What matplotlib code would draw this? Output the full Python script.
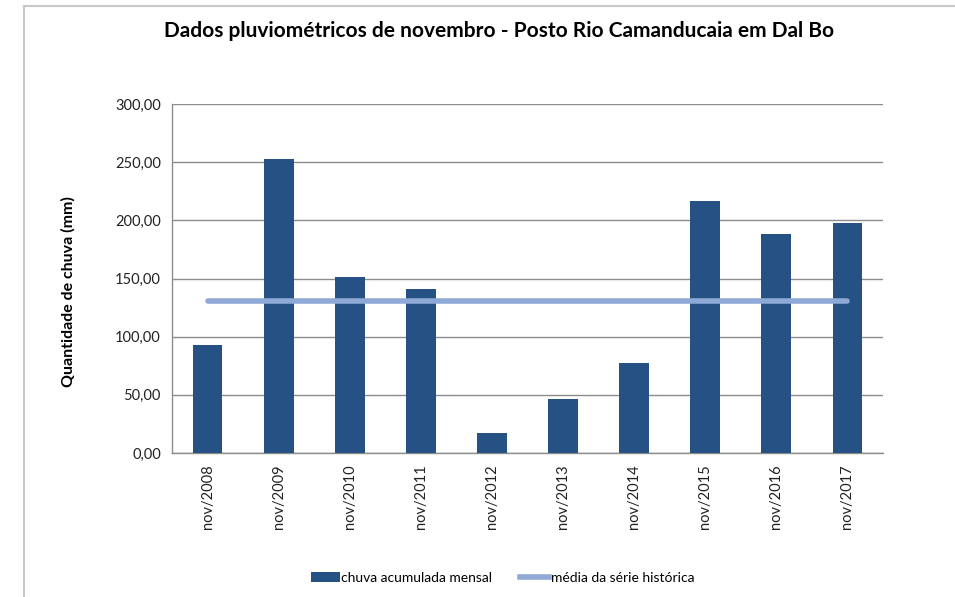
import matplotlib
matplotlib.use("Agg")
import matplotlib.pyplot as plt
from matplotlib.lines import Line2D
from matplotlib.patches import Patch
import numpy as np

categories = ["nov/2008", "nov/2009", "nov/2010", "nov/2011", "nov/2012",
              "nov/2013", "nov/2014", "nov/2015", "nov/2016", "nov/2017"]
chuva = [92.9, 252.8, 151.3, 141.0, 17.5, 46.4, 77.4, 216.7, 188.3, 197.8]
media = [131.0] * 10
yticks = [0, 50, 100, 150, 200, 250, 300]
ytick_labels = ["0,00", "50,00", "100,00", "150,00", "200,00", "250,00", "300,00"]

plt.rcParams['font.family'] = ['Lato', 'DejaVu Sans']

fig = plt.figure(figsize=(9.55, 5.97), dpi=100)
ax = fig.add_axes([0.1801, 0.2412, 0.7445, 0.5846])

x = np.arange(len(categories))
ax.bar(x, chuva, width=0.42, color='#265184', zorder=3,
       label='chuva acumulada mensal')
ax.plot(x, media, color='#8EA9D6', linewidth=4, solid_capstyle='round',
        zorder=4, label='média da série histórica')

ax.set_xlim(-0.5, len(categories) - 0.5)
ax.set_ylim(0, 300)
ax.set_yticks(yticks)
ax.set_yticklabels(ytick_labels, fontsize=10.5, color='#222222')
ax.set_xticks(x)
ax.set_xticklabels(categories, rotation=90, fontsize=10.5, color='#222222')
ax.tick_params(axis='both', length=0, pad=8)
ax.grid(axis='y', color='#8c8c8c', linewidth=1, zorder=0)
for s in ['top', 'right']:
    ax.spines[s].set_visible(False)
for s in ['left', 'bottom']:
    ax.spines[s].set_color('#8c8c8c')
    ax.spines[s].set_linewidth(1)

ax.set_ylabel('Quantidade de chuva (mm)', fontsize=11.5, fontweight='bold')
ax.yaxis.set_label_coords(-0.135, 0.462)

fig.text(0.523, 0.948, 'Dados pluviométricos de novembro - Posto Rio Camanducaia em Dal Bo',
         ha='center', va='center', fontsize=15, fontweight='bold')

handles = [Patch(facecolor='#265184'),
           Line2D([0], [0], color='#8EA9D6', linewidth=4)]
fig.legend(handles, ['chuva acumulada mensal', 'média da série histórica'],
           loc='center', bbox_to_anchor=(0.526, 0.032), ncol=2, frameon=False,
           fontsize=10, handlelength=2.1, handletextpad=0.1, columnspacing=2.0)

# chart frame
fig.add_artist(Line2D([24/955, 24/955], [0, 1 - 6/597], color='#c8c8c8', linewidth=1.5,
                      transform=fig.transFigure))
fig.add_artist(Line2D([24/955, 1], [1 - 6/597, 1 - 6/597], color='#c8c8c8', linewidth=1.5,
                      transform=fig.transFigure))

fig.savefig('out.png', dpi=100)
